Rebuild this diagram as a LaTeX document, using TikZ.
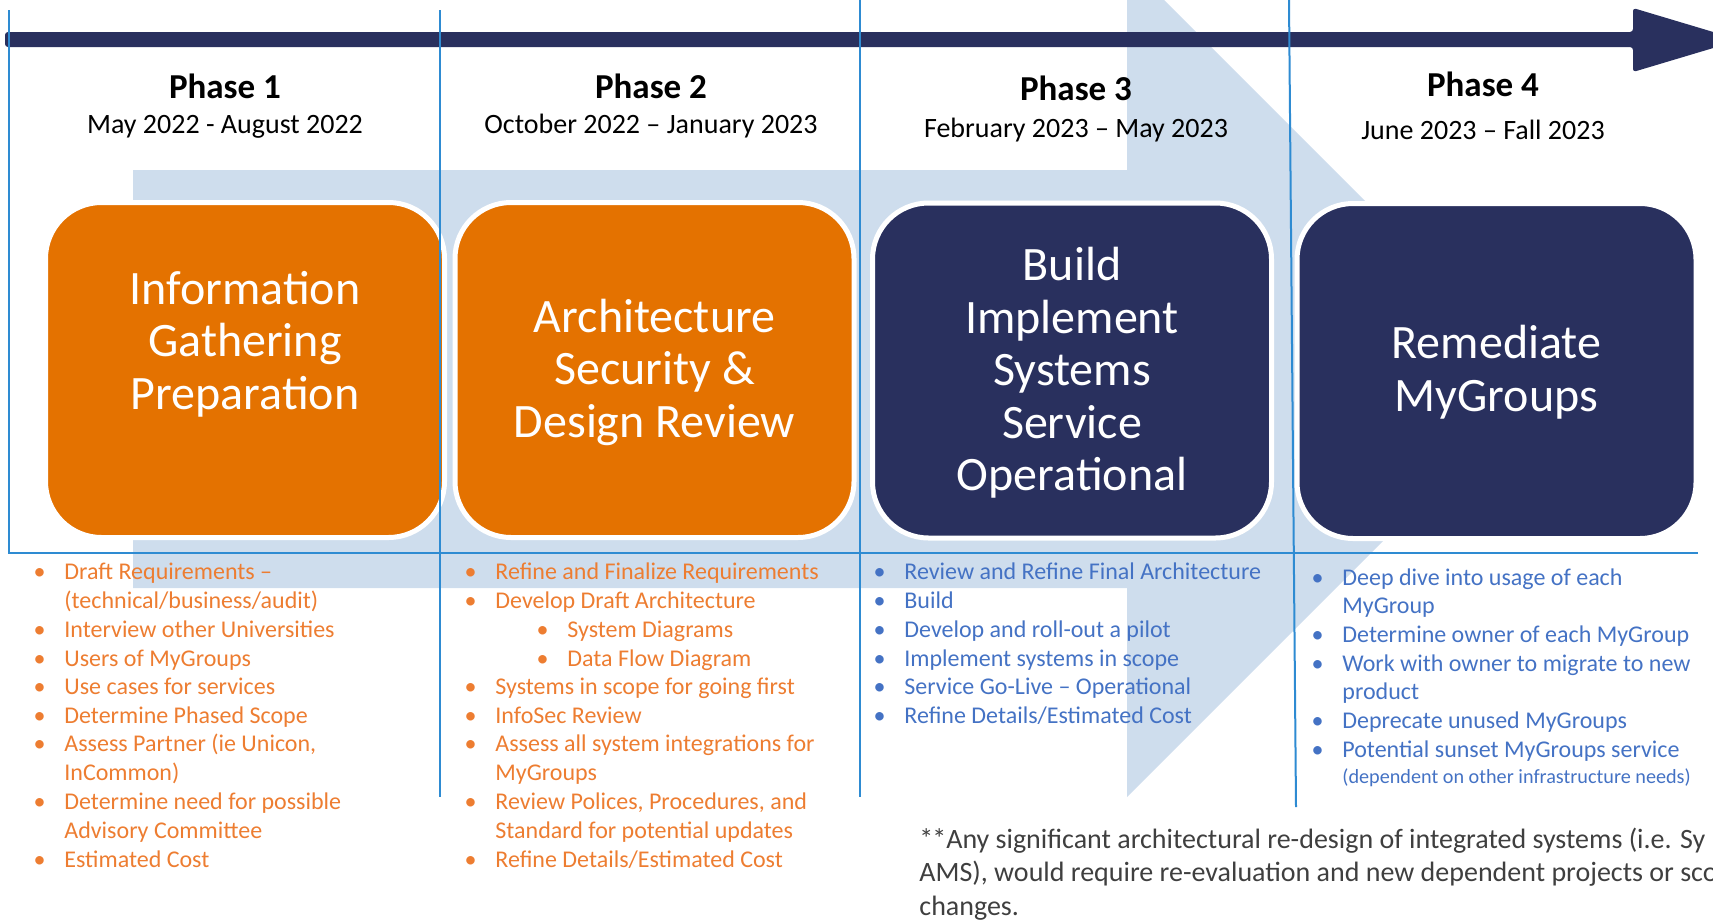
\documentclass[tikz,border=0pt]{standalone}
\usepackage{fontspec}
\setmainfont{Carlito}
\usepackage{tikz}
\newcommand{\itemsize}{\fontsize{12}{14}\selectfont}
\definecolor{navy}{HTML}{29305E}
\definecolor{boxorange}{HTML}{E47200}
\definecolor{txtorange}{HTML}{ED7D31}
\definecolor{txtblue}{HTML}{4472C4}
\definecolor{paleblue}{HTML}{CEDDED}
\definecolor{rulecol}{HTML}{2E8BD2}
\definecolor{notegray}{HTML}{3F3F3F}

\begin{document}
\begin{tikzpicture}[x=0.5pt,y=-0.5pt,
    phasebox/.style={draw=white, line width=2.5pt, rounded corners=28pt,
      minimum width=199.5pt, minimum height=167.5pt, inner sep=0pt},
    boxtext/.style={text=white, align=center, inner sep=0pt,
      font=\fontsize{24}{26.25}\selectfont},
    phase/.style={anchor=base, inner sep=0pt, font=\bfseries\fontsize{17.5}{20}\selectfont},
    date/.style={anchor=base, inner sep=0pt, font=\fontsize{14}{16}\selectfont},
    item/.style={anchor=base west, inner sep=0pt, font=\itemsize},
    dot/.style={anchor=base, inner sep=0pt, font=\itemsize},
    note/.style={anchor=base west, inner sep=0pt, text=notegray,
      font=\fontsize{14}{16}\selectfont},
    rule/.style={draw=rulecol, line width=1pt}]

      \useasboundingbox (0,0) rectangle (1713,922);

          %% the big pale arrow behind everything
      \fill[paleblue] (133,170) -- (1127,170) -- (1127,-37) -- (1544,380)
      -- (1127,797) -- (1127,588) -- (133,588) -- cycle;

          %% the four phase boxes
      \node[phasebox, fill=boxorange] (box1) at (245,370) {};
      \node[phasebox, fill=boxorange] (box2) at (654.5,370) {};
      \node[phasebox, fill=navy] (box3) at (1072,370.5) {};
      \node[phasebox, fill=navy] (box4) at (1496.5,371) {};
      \node[boxtext] (t1) at (245,344) {Information\\Gathering\\Preparation};
      \node[boxtext] (t2) at (654.5,372) {Architecture\\Security \&\\Design Review};
      \node[boxtext] (t3) at (1072,373) {Build\\Implement\\Systems\\Service\\Operational};
      \node[boxtext] (t4) at (1496.5,372) {Remediate\\MyGroups};

          %% time line
      \fill[navy, rounded corners=1.5pt] (5,32) -- (1633,32) -- (1633,8) -- (1740,40)
      -- (1633,72) -- (1633,47) -- (5,47) -- cycle;

          %% column rules
      \draw[rule] (9,10) -- (9,553) -- (1698,553);
      \draw[rule] (440,10) -- (440,797);
      \draw[rule] (860,0) -- (860,797);
      \draw[rule] (1289,0) -- (1296,807);

          %% headers
      \foreach \x/\y/\yy/\d [count=\i] in {225/98/133/{May 2022 - August 2022},
        651/98/133/{October 2022 – January 2023}, 1076/100/137/{February 2023 – May 2023},
        1483/96/139/{June 2023 – Fall 2023}}
      { \node[phase] (ph\i) at (\x,\y) {Phase \i};
        \node[date] (dt\i) at (\x,\yy) {\d}; }

          %% phase 1 list
      \foreach \x/\y/\b/\t [count=\i] in {64/579/1/{Draft Requirements –},
        64/608/0/{(technical/business/audit)}, 64/637/1/{Interview other Universities},
        64/666/1/{Users of MyGroups}, 64/694/1/{Use cases for services},
        64/723/1/{Determine Phased Scope}, 64/751/1/{Assess Partner (ie Unicon,},
        64/780/0/{InCommon)}, 64/809/1/{Determine need for possible},
        64/838/0/{Advisory Committee}, 64/867/1/{Estimated Cost}}
      { \node[item, text=txtorange] (a\i) at (\x,\y) {\t};
        \ifnum\b=1 \node[dot, text=txtorange] (ad\i) at (\x-24.5,\y) {\textbullet}; \fi }

          %% phase 2 list
      \foreach \x/\y/\b/\t [count=\i] in {495/579/1/{Refine and Finalize Requirements},
        495/608/1/{Develop Draft Architecture}, 567/637/1/{System Diagrams},
        567/666/1/{Data Flow Diagram}, 495/694/1/{Systems in scope for going first},
        495/723/1/{InfoSec Review}, 495/751/1/{Assess all system integrations for},
        495/780/0/{MyGroups}, 495/809/1/{Review Polices, Procedures, and},
        495/838/0/{Standard for potential updates}, 495/867/1/{Refine Details/Estimated Cost}}
      { \node[item, text=txtorange] (b\i) at (\x,\y) {\t};
        \ifnum\b=1 \node[dot, text=txtorange] (bd\i) at (\x-24.5,\y) {\textbullet}; \fi }

          %% phase 3 list
      \foreach \x/\y/\b/\t [count=\i] in {904/579/1/{Review and Refine Final Architecture},
        904/608/1/{Build}, 904/637/1/{Develop and roll-out a pilot},
        904/666/1/{Implement systems in scope}, 904/694/1/{Service Go-Live – Operational},
        904/723/1/{Refine Details/Estimated Cost}}
      { \node[item, text=txtblue] (c\i) at (\x,\y) {\t};
        \ifnum\b=1 \node[dot, text=txtblue] (cd\i) at (\x-24.5,\y) {\textbullet}; \fi }

          %% phase 4 list
      \foreach \x/\y/\b/\t [count=\i] in {1342/585/1/{Deep dive into usage of each},
        1342/613/0/{MyGroup}, 1342/642/1/{Determine owner of each MyGroup},
        1342/671/1/{Work with owner to migrate to new}, 1342/699/0/{product},
        1342/728/1/{Deprecate unused MyGroups}, 1342/757/1/{Potential sunset MyGroups service}}
      { \node[item, text=txtblue] (d\i) at (\x,\y) {\t};
        \ifnum\b=1 \node[dot, text=txtblue] (dd\i) at (\x-24.5,\y) {\textbullet}; \fi }
      \node[item, text=txtblue, font=\fontsize{10.1}{12}\selectfont] (d8) at (1342,783)
      {(dependent on other infrastructure needs)};

          %% footnote
      \node[note] (n1) at (919,848) {*\kern-0.5pt*Any significant architectural re-design of integrated systems (i.e. Sy};
      \node[note] (n2) at (919,881) {AMS), would require re-evaluation and new dependent projects or sco};
      \node[note] (n3) at (919,915) {changes.};

\end{tikzpicture}
\end{document}
